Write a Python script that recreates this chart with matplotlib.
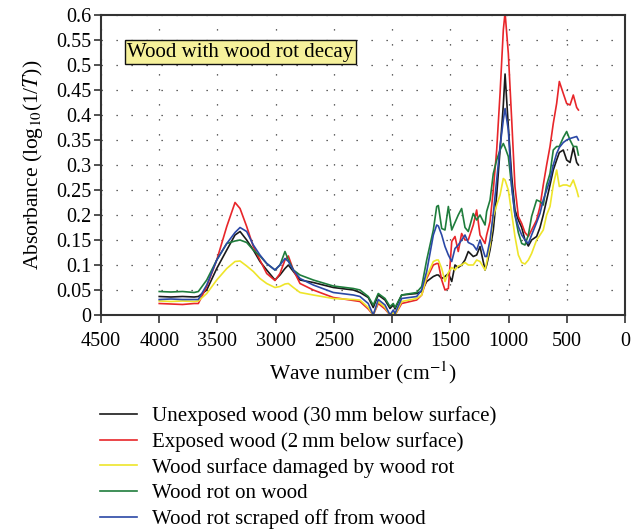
import matplotlib
matplotlib.use("Agg")
import matplotlib.pyplot as plt
from matplotlib.ticker import MultipleLocator, FuncFormatter

plt.rcParams['font.family'] = ['Liberation Serif', 'DejaVu Serif']
plt.rcParams['mathtext.fontset'] = 'stix'

wavenumber = [4000, 3900, 3800, 3700, 3664, 3592, 3506, 3420, 3349, 3306,
              3249, 3192, 3135, 3077, 3006, 2963, 2920, 2891, 2848, 2791,
              2677, 2505, 2333, 2276, 2205, 2162, 2119, 2061, 2018, 1990,
              1975, 1918, 1789, 1746, 1703, 1646, 1617, 1603, 1574, 1546,
              1517, 1488, 1460, 1432, 1403, 1374, 1346, 1303, 1274, 1245,
              1202, 1188, 1159, 1131, 1102, 1073, 1045, 1030, 1002, 973,
              945, 916, 887, 859, 830, 802, 759, 730, 702, 673,
              644, 616, 587, 564, 530, 501, 472, 444, 415, 400]

unexposed = [0.037, 0.036, 0.037, 0.036, 0.037, 0.05, 0.093, 0.13, 0.16, 0.167,
             0.15, 0.13, 0.107, 0.09, 0.07, 0.08, 0.093, 0.1, 0.087, 0.07,
             0.065, 0.055, 0.05, 0.045, 0.035, 0.015, 0.04, 0.03, 0.013, 0.02,
             0.012, 0.04, 0.043, 0.047, 0.067, 0.077, 0.08, 0.08, 0.073, 0.077,
             0.083, 0.067, 0.1, 0.095, 0.1, 0.11, 0.127, 0.117, 0.12, 0.137,
             0.09, 0.1, 0.13, 0.17, 0.24, 0.33, 0.42, 0.482, 0.377, 0.277,
             0.21, 0.19, 0.175, 0.15, 0.138, 0.15, 0.157, 0.175, 0.2, 0.23,
             0.26, 0.29, 0.31, 0.325, 0.33, 0.31, 0.305, 0.335, 0.305, 0.3]

exposed = [0.023, 0.022, 0.021, 0.023, 0.023, 0.057, 0.11, 0.177, 0.225, 0.213,
           0.177, 0.137, 0.11, 0.083, 0.069, 0.083, 0.11, 0.118, 0.09, 0.063,
           0.05, 0.035, 0.029, 0.027, 0.012, 0.0, 0.023, 0.012, 0.0, 0.005,
           0.0, 0.023, 0.03, 0.04, 0.073, 0.1, 0.103, 0.103, 0.07, 0.05,
           0.053, 0.147, 0.157, 0.127, 0.163, 0.15, 0.15, 0.18, 0.21, 0.16,
           0.143, 0.16, 0.187, 0.25, 0.33, 0.443, 0.57, 0.605, 0.523, 0.39,
           0.257, 0.197, 0.183, 0.165, 0.157, 0.17, 0.19, 0.217, 0.26, 0.3,
           0.337, 0.383, 0.423, 0.467, 0.443, 0.423, 0.42, 0.44, 0.415, 0.41]

damaged = [0.028, 0.027, 0.028, 0.027, 0.028, 0.043, 0.07, 0.093, 0.107, 0.108,
           0.098, 0.087, 0.073, 0.063, 0.055, 0.057, 0.062, 0.063, 0.055, 0.045,
           0.04, 0.033, 0.031, 0.03, 0.015, 0.0, 0.027, 0.015, 0.0, 0.005,
           0.0, 0.027, 0.033, 0.04, 0.077, 0.107, 0.11, 0.11, 0.093, 0.067,
           0.085, 0.095, 0.09, 0.098, 0.1, 0.105, 0.1, 0.1, 0.11, 0.107,
           0.09, 0.105, 0.14, 0.197, 0.22, 0.24, 0.273, 0.27, 0.25, 0.203,
           0.157, 0.12, 0.105, 0.102, 0.11, 0.123, 0.15, 0.16, 0.17, 0.2,
           0.217, 0.26, 0.29, 0.257, 0.26, 0.26, 0.257, 0.27, 0.25, 0.237]

rot_on = [0.047, 0.046, 0.047, 0.045, 0.047, 0.07, 0.11, 0.143, 0.148, 0.15,
          0.145, 0.13, 0.118, 0.103, 0.09, 0.1, 0.127, 0.11, 0.09, 0.08,
          0.07, 0.058, 0.053, 0.05, 0.037, 0.02, 0.043, 0.033, 0.017, 0.023,
          0.015, 0.04, 0.045, 0.057, 0.11, 0.17, 0.217, 0.219, 0.173, 0.17,
          0.217, 0.17, 0.185, 0.2, 0.213, 0.175, 0.167, 0.203, 0.19, 0.2,
          0.18, 0.207, 0.23, 0.283, 0.31, 0.33, 0.343, 0.335, 0.317, 0.257,
          0.2, 0.165, 0.143, 0.14, 0.16, 0.197, 0.23, 0.227, 0.22, 0.26,
          0.283, 0.33, 0.337, 0.337, 0.355, 0.367, 0.35, 0.337, 0.337, 0.32]

rot_scraped = [0.031, 0.032, 0.031, 0.031, 0.031, 0.06, 0.11, 0.143, 0.165, 0.175,
               0.167, 0.14, 0.12, 0.103, 0.09, 0.1, 0.113, 0.107, 0.09, 0.073,
               0.06, 0.045, 0.04, 0.037, 0.023, 0.0, 0.031, 0.02, 0.0, 0.01,
               0.003, 0.033, 0.037, 0.05, 0.087, 0.16, 0.18, 0.178, 0.16, 0.137,
               0.12, 0.107, 0.133, 0.14, 0.15, 0.16, 0.145, 0.14, 0.13, 0.15,
               0.117, 0.117, 0.15, 0.203, 0.27, 0.337, 0.39, 0.413, 0.37, 0.257,
               0.2, 0.177, 0.16, 0.15, 0.143, 0.16, 0.185, 0.203, 0.23, 0.25,
               0.27, 0.3, 0.323, 0.335, 0.345, 0.35, 0.353, 0.355, 0.357, 0.35]

series = [
    ("Unexposed wood (30\u2009mm below surface)", unexposed, "#1a1a1a"),
    ("Exposed wood (2\u2009mm below surface)", exposed, "#e8262a"),
    ("Wood surface damaged by wood rot", damaged, "#eee52a"),
    ("Wood rot on wood", rot_on, "#1f7d3c"),
    ("Wood rot scraped off from wood", rot_scraped, "#2b48a6"),
]

fig = plt.figure(figsize=(6.4, 5.29), dpi=100)
ax = fig.add_axes([101/640, 1 - 315/529, 524/640, 300/529])

handles = []
for label, vals, col in series:
    h, = ax.plot(wavenumber, vals, color=col, lw=1.2, label=label)
    handles.append(h)

ax.set_xlim(4500, 0)
ax.set_ylim(0, 0.6)
ax.xaxis.set_major_locator(MultipleLocator(500))
ax.yaxis.set_major_locator(MultipleLocator(0.05))
ax.yaxis.set_major_formatter(FuncFormatter(lambda v, p: "%g" % round(v, 2)))
ax.xaxis.set_major_formatter(FuncFormatter(lambda v, p: "%d" % round(v)))
ax.grid(True, color="#333333", lw=0.9, linestyle=(0, (1, 11)))
ax.tick_params(direction="out", length=5, width=1.2, labelsize=14.5, color="#333333")
ax.tick_params(axis="x", length=6, pad=6)
ax.tick_params(axis="y", pad=2)
for s in ax.spines.values():
    s.set_linewidth(1.5)
    s.set_color("#333333")

ax.set_xlabel("Wave number (cm$^{-1}$)", fontsize=15.5, labelpad=6)
ax.set_ylabel("Absorbance (log$_{10}$(1/$T$))", fontsize=15.5, labelpad=8)

ax.text(0.05, 0.876, "Wood with wood rot decay", transform=ax.transAxes,
        fontsize=15, va="center", ha="left",
        bbox=dict(boxstyle="square,pad=0.12", facecolor="#f6f19b", edgecolor="#111111", lw=1.0))

fig.legend(handles=handles, loc="upper left", bbox_to_anchor=(92/640, 1 - 398/529),
           frameon=False, fontsize=15, handlelength=1.75, handletextpad=0.75,
           labelspacing=0.28, borderaxespad=0)

fig.savefig("out.png", dpi=100)
